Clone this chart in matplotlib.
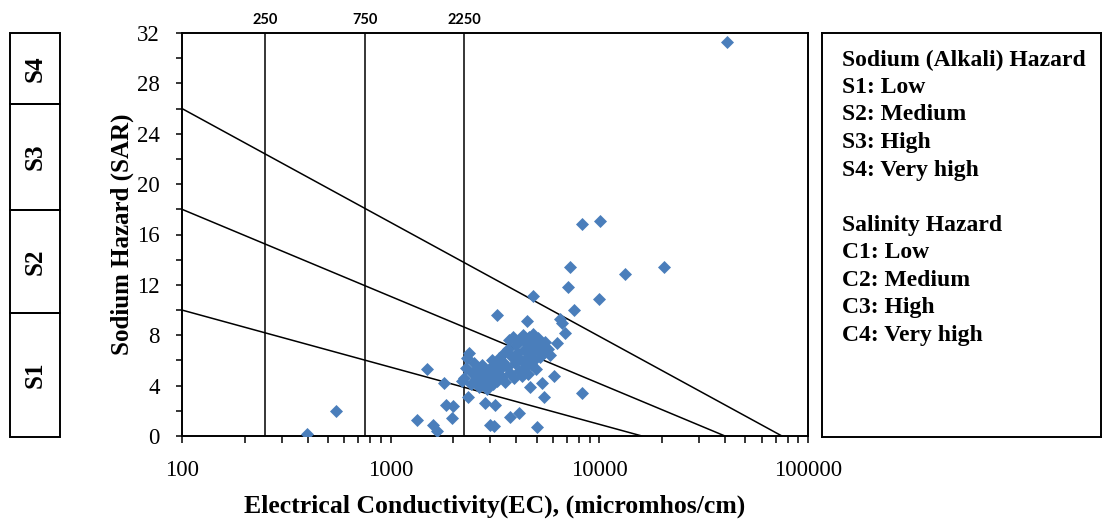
import numpy as np
import matplotlib
matplotlib.use('Agg')
import matplotlib.pyplot as plt
from matplotlib.patches import Rectangle
from matplotlib.ticker import LogLocator, MultipleLocator, FixedLocator

plt.rcParams['font.family'] = 'Liberation Serif'

# 样品数据: 电导率 (micromhos/cm) 与钠吸附比 SAR
ec = [40800, 8300, 10100, 7200, 13300, 20400, 7100, 10000, 4800, 7600,
      3230, 4500, 6450, 6650, 6830, 6260, 5800, 8260, 6060, 5440,
      5300, 4650, 3720, 4120, 2990, 3120, 5050, 2840, 3150, 1990,
      1960, 2340, 397, 547, 1490, 1800, 1340, 1600, 1670, 1840,
      2200,
      2250, 2300, 2330, 2380, 2420, 2450, 2500, 2560, 2600, 2650,
      2700, 2750, 2800, 2850, 2900, 2950, 3000, 3050, 3100, 3150,
      3200, 3250, 3300, 3350, 3400, 3450, 3500, 3550, 3600, 3650,
      3700, 3750, 3800, 3850, 3900, 3950, 4000, 4050, 4100, 4150,
      4200, 4250, 4300, 4350, 4400, 4450, 4500, 4550, 4600, 4650,
      4700, 4750, 4800, 4850, 4900, 4950, 5000, 5100, 5200, 5300,
      5400, 5500, 5700]
sar = [31.3, 16.8, 17.1, 13.4, 12.9, 13.4, 11.8, 10.9, 11.1, 10.0,
       9.6, 9.1, 9.3, 9.0, 8.2, 7.4, 6.4, 3.4, 4.8, 3.1,
       4.2, 3.9, 1.5, 1.8, 0.87, 0.8, 0.7, 2.6, 2.5, 2.4,
       1.4, 3.1, 0.16, 2.0, 5.3, 4.2, 1.3, 0.87, 0.4, 2.5,
       4.4,
       4.6, 5.4, 6.2, 6.6, 4.1, 5.0, 5.8, 4.5, 5.2, 3.9,
       4.8, 5.6, 4.3, 5.1, 3.7, 4.6, 5.4, 6.0, 4.1, 5.0,
       5.7, 4.4, 6.2, 5.3, 4.7, 5.9, 6.6, 4.3, 5.5, 6.9,
       7.6, 5.0, 6.3, 7.9, 4.6, 5.8, 7.2, 6.6, 5.2, 7.7,
       6.0, 4.8, 8.0, 6.8, 5.5, 7.4, 6.2, 4.9, 7.9, 6.5,
       5.7, 7.1, 8.1, 6.0, 7.5, 5.3, 6.8, 7.8, 6.3, 7.2,
       6.6, 7.5, 6.9]

# 盐度分级线 (EC) 与钠危害分级线 (SAR 在 EC=100 处, 及与 SAR=0 的交点)
salinity_bounds = [250, 750, 2250]
sodium_start = [26, 18, 10]
sodium_end_ec = [75000, 40000, 16000]
s_bounds = [0, 9.8, 18, 26.4, 32]
s_names = ['S1', 'S2', 'S3', 'S4']
legend_lines = ['Sodium (Alkali) Hazard', 'S1: Low', 'S2: Medium', 'S3: High',
                'S4: Very high', '', 'Salinity Hazard', 'C1: Low', 'C2: Medium',
                'C3: High', 'C4: Very high']

W, H = 1104, 519
fig = plt.figure(figsize=(W / 100, H / 100), dpi=100)


def fig_box(x0, y0, x1, y1):
    return [x0 / W, 1 - y1 / H, (x1 - x0) / W, (y1 - y0) / H]


ax = fig.add_axes(fig_box(182, 33, 808, 436))
ax.set_xscale('log')
ax.set_xlim(100, 100000)
ax.set_ylim(0, 32)

for x in salinity_bounds:
    ax.plot([x, x], [0, 32], color='black', lw=1.1, zorder=2)
    ax.text(x, 32.5, str(x), ha='center', va='bottom', fontsize=10.5,
            fontweight='bold', family='Lato')

for s0, e1 in zip(sodium_start, sodium_end_ec):
    ax.plot([100, e1], [s0, 0], color='black', lw=1.1, zorder=2)

ax.scatter(ec, sar, marker='D', s=44, color='#4A7EBB', linewidths=0, zorder=3)

ax.yaxis.set_major_locator(MultipleLocator(4))
ax.yaxis.set_minor_locator(MultipleLocator(2))
ax.xaxis.set_major_locator(FixedLocator([100, 1000, 10000, 100000]))
ax.xaxis.set_major_formatter(plt.FuncFormatter(lambda v, p: f'{int(v)}'))
ax.xaxis.set_minor_locator(LogLocator(base=10, subs=np.arange(2, 10)))
ax.xaxis.set_minor_formatter(plt.NullFormatter())
ax.tick_params(axis='both', which='both', direction='out', width=1.1,
               labelsize=16.5)
ax.tick_params(axis='y', which='both', length=4, pad=12)
ax.tick_params(axis='x', which='both', length=5, pad=12)
for sp in ax.spines.values():
    sp.set_linewidth(1.4)

ax.set_ylabel('Sodium Hazard (SAR)', fontsize=18, fontweight='bold', labelpad=2)
ax.set_xlabel('Electrical Conductivity(EC), (micromhos/cm)', fontsize=18.5,
              fontweight='bold', labelpad=10)

# 左侧 S1-S4 分区框
ax_s = fig.add_axes(fig_box(10, 33, 60, 437))
ax_s.set_xlim(0, 1)
ax_s.set_ylim(0, 32)
ax_s.axis('off')
for i, name in enumerate(s_names):
    lo, hi = s_bounds[i], s_bounds[i + 1]
    ax_s.add_patch(Rectangle((0, lo), 1, hi - lo, fill=False, ec='black',
                             lw=1.4, clip_on=False))
    ax_s.text(0.5, (lo + hi) / 2, name, rotation=90, ha='center', va='center',
              fontsize=18, fontweight='bold')

# 右侧说明框
ax_l = fig.add_axes(fig_box(822, 33, 1101, 437))
ax_l.set_xticks([])
ax_l.set_yticks([])
for sp in ax_l.spines.values():
    sp.set_linewidth(1.4)
for i, line in enumerate(legend_lines):
    ax_l.text(20 / 279, 1 - (27 + 27.5 * i) / 404, line, transform=ax_l.transAxes,
              ha='left', va='center', fontsize=17, fontweight='bold')

fig.savefig('out.png', dpi=100)
